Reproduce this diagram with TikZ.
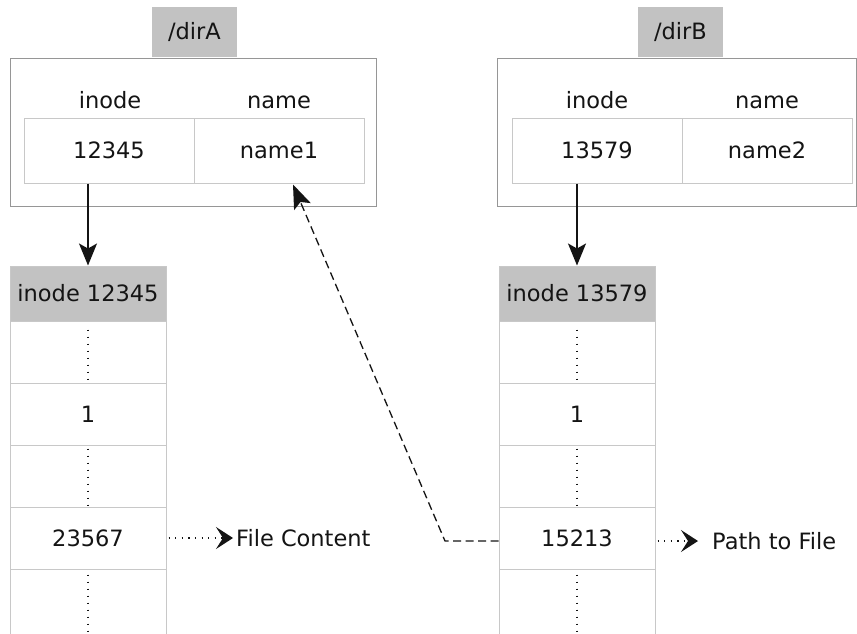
\documentclass[tikz,border=0pt]{standalone}
\usepackage{fontspec}
\setmainfont{DejaVu Sans}
\usetikzlibrary{arrows.meta,positioning,calc}
\definecolor{TabGray}{RGB}{194,194,194}
\definecolor{BoxGray}{RGB}{150,150,150}
\definecolor{CellGray}{RGB}{200,200,200}
\definecolor{Ink}{RGB}{20,20,20}
\tikzset{
  >=Latex,
  txt/.style={font=\fontsize{22.5}{26}\selectfont,text=Ink},
  tab/.style={txt,fill=TabGray,minimum width=85pt,minimum height=50pt,inner sep=0pt},
  dirbox/.style={draw=BoxGray,line width=1pt,inner sep=0pt},
  cell/.style={txt,draw=CellGray,line width=1pt,minimum width=170pt,minimum height=65pt,inner sep=0pt},
  colname/.style={txt,inner sep=0pt,anchor=base},
  inohead/.style={txt,draw=CellGray,line width=1pt,fill=TabGray,minimum width=156pt,minimum height=55pt,inner sep=0pt},
  slot/.style={txt,draw=CellGray,line width=1pt,minimum width=156pt,minimum height=62pt,inner sep=0pt},
  lastslot/.style={slot,minimum height=80pt},
  vdots/.style={line width=1.3pt,dash pattern=on 1.3pt off 5.7pt,draw=Ink},
  link/.style={-{Stealth[length=22pt,width=18pt,inset=5pt]},line width=1.5pt,draw=Ink},
  ptr/.style={-{Stealth[length=24pt,width=18pt,inset=5pt]},line width=1.3pt,dash pattern=on 8pt off 4.5pt,draw=Ink},
  goes/.style={-{Stealth[length=17pt,width=22pt,inset=7pt]},line width=1.3pt,dash pattern=on 1.3pt off 5.3pt,draw=Ink},
  note/.style={txt,anchor=west,inner sep=0pt}
}
\begin{document}
\begin{tikzpicture}[x=1pt,y=-1pt]
  \clip (0,0) rectangle (857,633);
  \fill[white] (0,0) rectangle (857,633);
  \node[tab] (tabA) at (194.5,32) {/dirA};
  \node[dirbox,minimum width=366pt,minimum height=148pt] (boxA) at (193,132) {};
  \node[colname] (inoA) at (110,108) {inode};
  \node[colname] (namA) at (279,108) {name};
  \node[cell] (numA) at (109,150.5) {12345};
  \node[cell] (nameA) at (279,150.5) {name1};
  \node[tab] (tabB) at (680.5,32) {/dirB};
  \node[dirbox,minimum width=359pt,minimum height=148pt] (boxB) at (676.5,132) {};
  \node[colname] (inoB) at (597,108) {inode};
  \node[colname] (namB) at (767,108) {name};
  \node[cell] (numB) at (597,150.5) {13579};
  \node[cell] (nameB) at (767,150.5) {name2};
  \node[inohead] (hA) at (88,293.5) {inode 12345};
  \node[slot] (rA1) at (88,352) {};
  \node[slot] (rA2) at (88,414) {1};
  \node[slot] (rA3) at (88,476) {};
  \node[slot] (rA4) at (88,538) {23567};
  \node[lastslot] (rA5) at (88,609) {};
  \node[inohead] (hB) at (577,293.5) {inode 13579};
  \node[slot] (rB1) at (577,352) {};
  \node[slot] (rB2) at (577,414) {1};
  \node[slot] (rB3) at (577,476) {};
  \node[slot] (rB4) at (577,538) {15213};
  \node[lastslot] (rB5) at (577,609) {};
  \draw[vdots] ([yshift=-9pt]rA1.north) -- ([yshift=4pt]rA1.south);
  \draw[vdots] ([yshift=-4pt]rA3.north) -- (rA3.south);
  \draw[vdots] ([yshift=-6pt]rA5.north) -- (rA5.south);
  \draw[vdots] ([yshift=-9pt]rB1.north) -- ([yshift=4pt]rB1.south);
  \draw[vdots] ([yshift=-4pt]rB3.north) -- (rB3.south);
  \draw[vdots] ([yshift=-6pt]rB5.north) -- (rB5.south);
  \node[note] (fc) at (236,538) {File Content};
  \node[note] (pf) at (712,541) {Path to File};
  \coordinate (bend) at (445,541);
  \draw[link] (numA.south -| hA.north) -- (hA.north);
  \draw[link] (numB.south -| hB.north) -- (hB.north);
  \draw[goes] ([xshift=2pt]rA4.east) -- ([xshift=-3pt]fc.west);
  \draw[goes] ([xshift=2pt]rB4.east |- pf.west) -- ([xshift=-14pt]pf.west);
  \draw[ptr] (rB4.west |- bend) -- (bend) -- ([xshift=14pt,yshift=-1pt]nameA.south);
\end{tikzpicture}
\end{document}
